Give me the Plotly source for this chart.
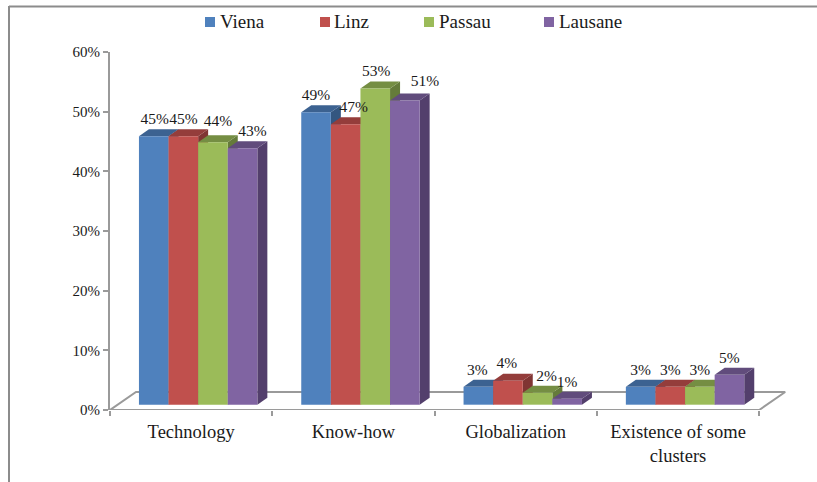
import plotly.graph_objects as go

categories = ["Technology", "Know-how", "Globalization", "Existence of some<br>clusters"]
viena = [45, 49, 3, 3]
linz = [45, 47, 4, 3]
passau = [44, 53, 2, 3]
lausane = [43, 51, 1, 5]
series_names = ["Viena", "Linz", "Passau", "Lausane"]
series_values = [viena, linz, passau, lausane]
y_ticks = [0, 10, 20, 30, 40, 50, 60]

# styling
front_colors = ["#4F81BD", "#C0504D", "#9BBB59", "#8064A2"]
top_colors = ["#3C6291", "#943D3B", "#758E43", "#614C7C"]
side_colors = ["#345680", "#803533", "#657B3A", "#533F6C"]
label_nudge_x = [[1, 0, -1, 0], [0, 8, -1, 0], [5, 1, 9, 0], [10, 20, 0, 0]]
label_nudge_y = [[16, 16, 16, 16], [16, 16, 17, 16], [20, 16, 16, 16], [16, 18, 16, 16]]
legend_swatch_px = [205, 320, 424, 544]
legend_text_px = [219, 333, 438, 558]

W, H = 817, 482
PX_L, PX_R, PX_T, PX_B = 110.0, 787.0, 52.0, 410.0
CAT_W = 162.3
X_MAX = (PX_R - PX_L) / CAT_W
PX_PER_PCT = (PX_B - PX_T) / 60.0
dx_cat = lambda p: p / CAT_W
dy_val = lambda p: p / PX_PER_PCT
paper_x = lambda p: (p - PX_L) / (PX_R - PX_L)
paper_y = lambda p: (PX_B - p) / (PX_B - PX_T)

BASE = dy_val(5.3)
BAR_W = dx_cat(29.6)
DEPTH_X = dx_cat(10)
DEPTH_Y = dy_val(7)
GROUP_SHIFT = dx_cat(7)
FLOOR_X = dx_cat(26)
FLOOR_Y = dy_val(18)
TEXT_FONT = "Liberation Serif"
TEXT_COLOR = "#1a1a1a"
GRAY = "#9a9a9a"
BORDER = "#8c8c8c"

fig = go.Figure()

fig.add_trace(go.Scatter(
    x=[0, FLOOR_X, 4 + FLOOR_X, 4, 0],
    y=[0, FLOOR_Y, FLOOR_Y, 0, 0],
    mode="lines", line=dict(color=GRAY, width=2),
    hoverinfo="skip", showlegend=False, cliponaxis=False))


def face(xs, ys, color, name=None):
    fig.add_trace(go.Scatter(
        x=xs, y=ys, mode="lines", fill="toself", fillcolor=color,
        line=dict(width=0), name=name, showlegend=False,
        hoverinfo="name" if name else "skip"))


label_x, label_y, label_t = [], [], []
for s, (name, values) in enumerate(zip(series_names, series_values)):
    for c, v in enumerate(values):
        xc = c + 0.5 + GROUP_SHIFT + (s - 1.5) * BAR_W
        xl, xr = xc - BAR_W / 2, xc + BAR_W / 2
        yt = BASE + v
        face([xr, xr + DEPTH_X, xr + DEPTH_X, xr, xr],
             [BASE, BASE + DEPTH_Y, yt + DEPTH_Y, yt, BASE], side_colors[s])
        face([xl, xl + DEPTH_X, xr + DEPTH_X, xr, xl],
             [yt, yt + DEPTH_Y, yt + DEPTH_Y, yt, yt], top_colors[s])
        face([xl, xr, xr, xl, xl], [BASE, BASE, yt, yt, BASE], front_colors[s], name)
        label_x.append(xc + dx_cat(label_nudge_x[s][c]))
        label_y.append(yt + dy_val(label_nudge_y[s][c]))
        label_t.append(f"{v}%")

fig.add_trace(go.Scatter(
    x=label_x, y=label_y, text=label_t, mode="text", textposition="middle center",
    textfont=dict(family=TEXT_FONT, size=15.5, color=TEXT_COLOR),
    hoverinfo="skip", showlegend=False, cliponaxis=False))

fig.update_layout(
    width=W, height=H, autosize=False, showlegend=False,
    margin=dict(l=PX_L, r=W - PX_R, t=PX_T, b=H - PX_B),
    plot_bgcolor="white", paper_bgcolor="white",
    font=dict(family=TEXT_FONT, size=16, color=TEXT_COLOR),
    xaxis=dict(range=[0, X_MAX], tickmode="array",
               tickvals=[0.5, 1.5, 2.5, 3.5], ticktext=categories,
               showgrid=False, zeroline=False, showline=False, ticks="",
               tickfont=dict(size=18.5), ticklabelstandoff=8,
               minor=dict(tickmode="array", tickvals=[0, 1, 2, 3, 4], ticks="outside",
                          ticklen=5, tickcolor=GRAY, tickwidth=2, showgrid=False)),
    yaxis=dict(range=[0, 60], tickmode="array", tickvals=y_ticks,
               ticktext=[f"{t}%" for t in y_ticks],
               showgrid=False, zeroline=False, showline=True, linecolor=GRAY,
               linewidth=2, ticks="outside", ticklen=5, tickcolor=GRAY,
               tickwidth=2, tickfont=dict(size=15)),
)

# legend
for s, name in enumerate(series_names):
    fig.add_shape(type="rect", xref="paper", yref="paper",
                  x0=paper_x(legend_swatch_px[s]), x1=paper_x(legend_swatch_px[s] + 10),
                  y0=paper_y(27), y1=paper_y(17),
                  fillcolor=front_colors[s], line=dict(width=0))
    fig.add_annotation(xref="paper", yref="paper", x=paper_x(legend_text_px[s]), y=paper_y(22),
                       text=name, showarrow=False, xanchor="left", yanchor="middle",
                       xshift=-1, font=dict(size=19, family=TEXT_FONT, color=TEXT_COLOR))

# outer border of the picture
fig.add_shape(type="line", xref="paper", yref="paper",
              x0=paper_x(9), x1=paper_x(817), y0=paper_y(6.5), y1=paper_y(6.5),
              line=dict(color=BORDER, width=2))
fig.add_shape(type="line", xref="paper", yref="paper",
              x0=paper_x(9), x1=paper_x(9), y0=paper_y(6), y1=paper_y(482),
              line=dict(color=BORDER, width=2))

fig.write_html("out.html", config=dict(displayModeBar=False),
               post_script="document.body.style.margin='0';document.documentElement.style.overflow='hidden';")
